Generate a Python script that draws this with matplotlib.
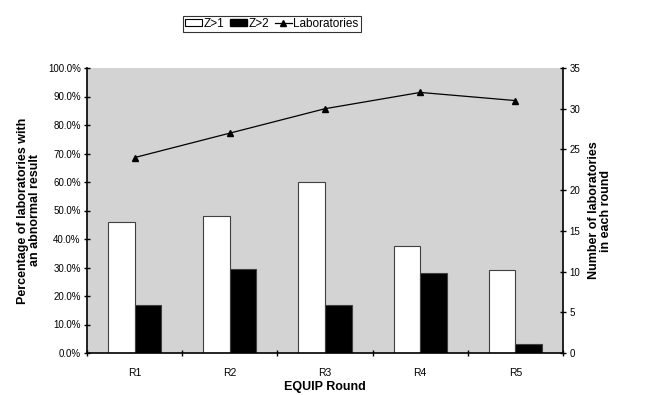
import matplotlib
matplotlib.use("Agg")
import matplotlib.pyplot as plt
import numpy as np
from matplotlib.lines import Line2D
from matplotlib.patches import Patch

rounds = ["R1", "R2", "R3", "R4", "R5"]
z1 = [45.8, 48.1, 60.0, 37.5, 29.0]
z2 = [16.7, 29.6, 16.7, 28.1, 3.2]
labs = [24, 27, 30, 32, 31]

plt.rcParams['font.family'] = ['Liberation Sans', 'DejaVu Sans']

fig = plt.figure(figsize=(6.45, 3.95), dpi=100)
ax = fig.add_axes([87/645, 1-353/395, (563-87)/645, (353-68)/395])
ax.set_facecolor('#d3d3d3')
x = np.arange(len(rounds))
w = 0.28
ax.bar(x - w/2, z1, w, color='white', edgecolor='#404040', linewidth=0.8, zorder=2)
ax.bar(x + w/2, z2, w, color='black', edgecolor='#404040', linewidth=0.8, zorder=2)
ax.set_xlim(-0.5, 4.5)
ax.set_ylim(0, 100)
ax.set_yticks(np.arange(0, 101, 10))
ax.set_yticklabels([f"{v:.1f}%" for v in np.arange(0, 101, 10)], fontsize=7)
ax.set_xticks(x)
ax.set_xticklabels(rounds, fontsize=7.5)
ax.tick_params(axis='x', length=0, pad=11)
ax.set_xticks(np.arange(-0.5, 5, 1), minor=True)
ax.tick_params(axis='x', which='minor', length=5, direction='inout', width=1)
ax.tick_params(axis='y', length=5, direction='inout', width=1, pad=2)
ax.spines['top'].set_visible(False)
ax.spines['left'].set_linewidth(1.2)
ax.spines['bottom'].set_linewidth(1.2)
ax.spines['right'].set_visible(False)
ax.set_xlabel("EQUIP Round", fontsize=9, fontweight='bold', labelpad=2)
ax.set_ylabel("Percentage of laboratories with\nan abnormal result", fontsize=9,
              fontweight='bold', labelpad=5, linespacing=1.0)

ax2 = ax.twinx()
ax2.plot(x, labs, color='black', linewidth=0.9, marker='^', markersize=4.5, zorder=3)
ax2.set_ylim(0, 35)
ax2.set_yticks(np.arange(0, 36, 5))
ax2.tick_params(axis='y', labelsize=7, length=5, direction='inout', width=1, pad=2)
for s in ['top', 'left', 'bottom']:
    ax2.spines[s].set_visible(False)
ax2.spines['right'].set_linewidth(1.2)
ax2.set_ylabel("Number of laboratories\nin each round", fontsize=9, fontweight='bold',
               labelpad=6, linespacing=1.0)

handles = [Patch(facecolor='white', edgecolor='black', linewidth=0.8),
           Patch(facecolor='black', edgecolor='black'),
           Line2D([0], [0], color='black', marker='^', markersize=4, linewidth=0.9)]
leg = fig.legend(handles, ["Z>1", "Z>2", "Laboratories"], loc='center',
                 bbox_to_anchor=(272/645, 1-24/395), ncol=3, fontsize=8.5, frameon=True,
                 fancybox=False, edgecolor='black', handlelength=1.4, handleheight=0.55,
                 handletextpad=0.15, columnspacing=0.5, borderpad=0.2, borderaxespad=0)
leg.get_frame().set_linewidth(0.8)

fig.savefig("out.png", dpi=100)
